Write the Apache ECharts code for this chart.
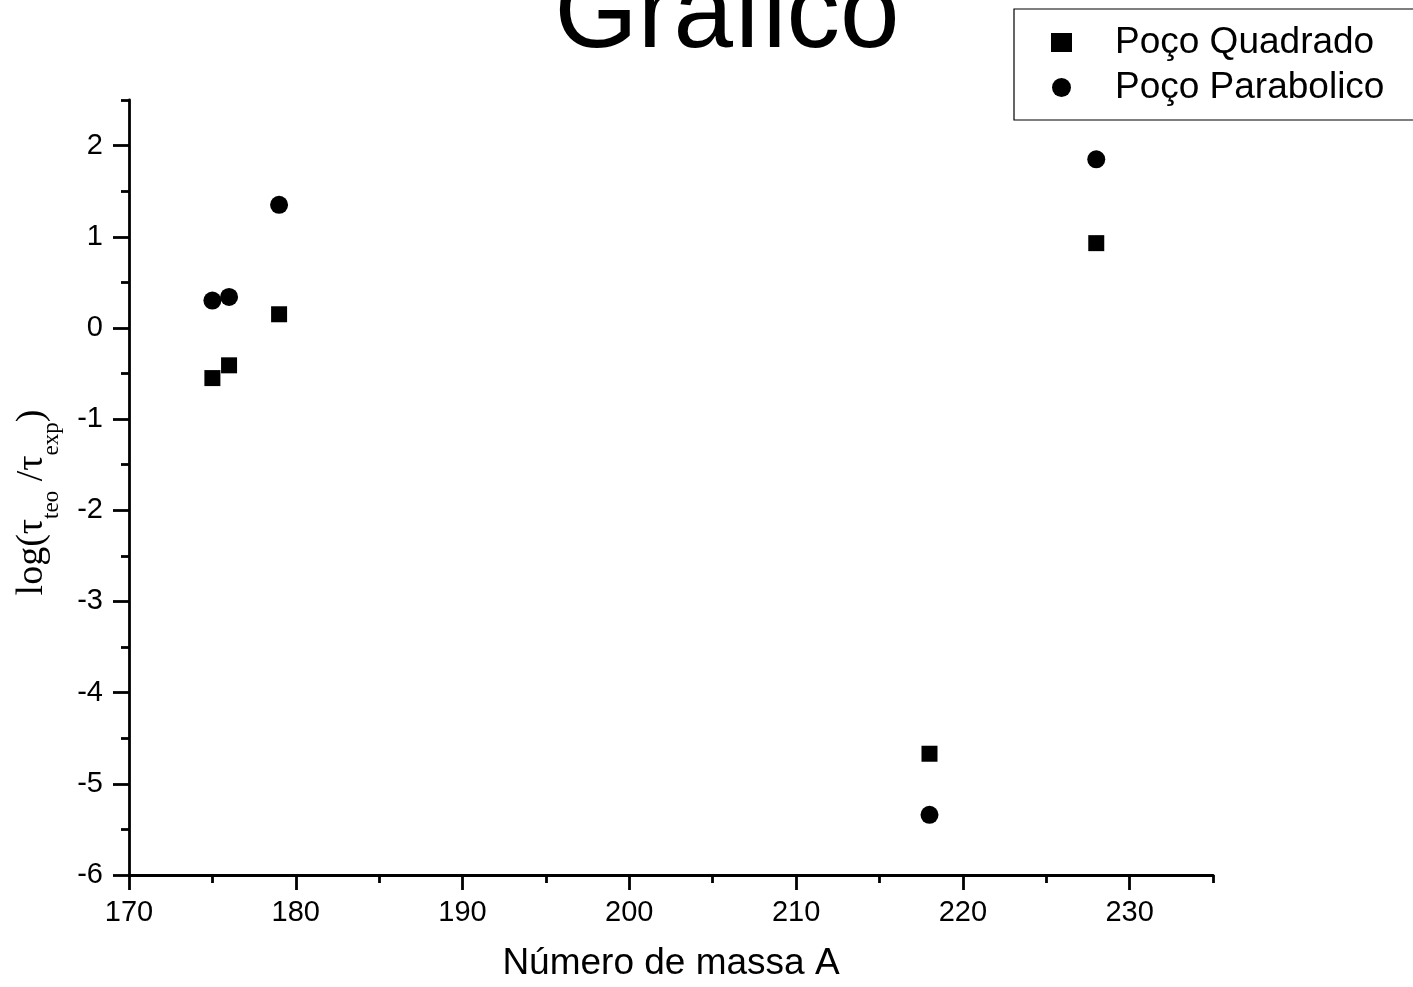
<!DOCTYPE html>
<html>
<head>
<meta charset="utf-8">
<script src="https://cdn.jsdelivr.net/npm/echarts@6/dist/echarts.min.js"></script>
<style>html,body{margin:0;padding:0;background:#fff;}#chart{width:1413px;height:987px;}</style>
</head>
<body>
<div id="chart"></div>
<script>
const massNumbers = [175, 176, 179, 218, 228];
const squareWell = [-0.55, -0.41, 0.15, -4.67, 0.93];
const parabolicWell = [0.30, 0.34, 1.35, -5.34, 1.85];
const seriesNames = ['Poço Quadrado', 'Poço Parabolico'];
const xMajorTicks = [170, 180, 190, 200, 210, 220, 230];
const xMinorTicks = [175, 185, 195, 205, 215, 225, 235];
const yMajorTicks = [-6, -5, -4, -3, -2, -1, 0, 1, 2];
const yMinorTicks = [-5.5, -4.5, -3.5, -2.5, -1.5, -0.5, 0.5, 1.5, 2.5];
const titleText = 'Grafico';
const xName = 'Número de massa A';

const sans = '"Liberation Sans", Arial, sans-serif';
const serif = '"Liberation Serif", "Times New Roman", serif';
const black = '#000';

const chart = echarts.init(document.getElementById('chart'));
const pairs = (ys) => massNumbers.map((x, i) => [x, ys[i]]);

const xMin = 170, xMax = 235, yMin = -6, yMax = 2.5;

chart.setOption({
  animation: false,
  backgroundColor: '#fff',
  graphic: [{
    type: 'text',
    x: 727,
    y: 71,
    style: {
      text: titleText,
      fill: black,
      font: '107px ' + sans,
      textAlign: 'center',
      textVerticalAlign: 'bottom',
      verticalAlign: 'bottom'
    },
    z: 100
  }],
  legend: {
    left: 1014,
    top: 9,
    orient: 'vertical',
    backgroundColor: '#fff',
    borderColor: black,
    borderWidth: 1.2,
    borderRadius: 0,
    padding: [15, 60, 14, 37],
    itemWidth: 21,
    itemHeight: 19,
    itemGap: 8,
    selectedMode: false,
    itemStyle: { opacity: 1, color: black },
    textStyle: {
      fontFamily: sans,
      fontSize: 37,
      color: black,
      lineHeight: 36,
      padding: [0, 0, 0, 38]
    },
    data: [
      { name: seriesNames[0], icon: 'rect' },
      { name: seriesNames[1], icon: 'circle' }
    ]
  },
  grid: { left: 129, right: 200, top: 100, bottom: 110, containLabel: false },
  xAxis: [{
    type: 'value',
    position: 'bottom',
    min: xMin, max: xMax,
    name: xName,
    nameLocation: 'middle',
    nameGap: 70,
    nameTextStyle: { fontFamily: sans, fontSize: 37, color: black },
    axisLine: { show: true, onZero: false, lineStyle: { color: black, width: 2.8 } },
    axisTick: { show: true, inside: false, length: 15, customValues: xMajorTicks, lineStyle: { color: black, width: 2.8 } },
    axisLabel: { show: true, margin: 23, customValues: xMajorTicks, fontFamily: sans, fontSize: 29, color: black },
    splitLine: { show: false }
  }, {
    type: 'value',
    position: 'bottom',
    min: xMin, max: xMax,
    axisLine: { show: false, onZero: false },
    axisTick: { show: true, inside: false, length: 8, customValues: xMinorTicks, lineStyle: { color: black, width: 2.8 } },
    axisLabel: { show: false },
    splitLine: { show: false }
  }],
  yAxis: [{
    type: 'value',
    position: 'left',
    min: yMin, max: yMax,
    name: '{m|log(τ}{s|teo}{m| /τ}{s|exp}{m|)}',
    nameLocation: 'middle',
    nameGap: 78,
    nameRotate: 90,
    nameTextStyle: {
      color: black,
      padding: [0, 30, 0, 0],
      rich: {
        m: { fontFamily: serif, fontSize: 38, lineHeight: 38, verticalAlign: 'top', color: black },
        s: { fontFamily: serif, fontSize: 23, lineHeight: 23, verticalAlign: 'top', padding: [27, 0, 0, 0], color: black }
      }
    },
    axisLine: { show: true, onZero: false, lineStyle: { color: black, width: 2.8 } },
    axisTick: { show: true, inside: false, length: 16, customValues: yMajorTicks, lineStyle: { color: black, width: 2.8 } },
    axisLabel: { show: true, margin: 26, customValues: yMajorTicks, fontFamily: sans, fontSize: 29, color: black },
    splitLine: { show: false }
  }, {
    type: 'value',
    position: 'left',
    min: yMin, max: yMax,
    axisLine: { show: false, onZero: false },
    axisTick: { show: true, inside: false, length: 8, customValues: yMinorTicks, lineStyle: { color: black, width: 2.8 } },
    axisLabel: { show: false },
    splitLine: { show: false }
  }],
  series: [{
    name: seriesNames[0],
    type: 'scatter',
    xAxisIndex: 0, yAxisIndex: 0,
    symbol: 'rect',
    symbolSize: 16,
    itemStyle: { color: black, opacity: 1 },
    data: pairs(squareWell)
  }, {
    name: seriesNames[1],
    type: 'scatter',
    xAxisIndex: 0, yAxisIndex: 0,
    symbol: 'circle',
    symbolSize: 18,
    itemStyle: { color: black, opacity: 1 },
    data: pairs(parabolicWell)
  }]
});
</script>
</body>
</html>
